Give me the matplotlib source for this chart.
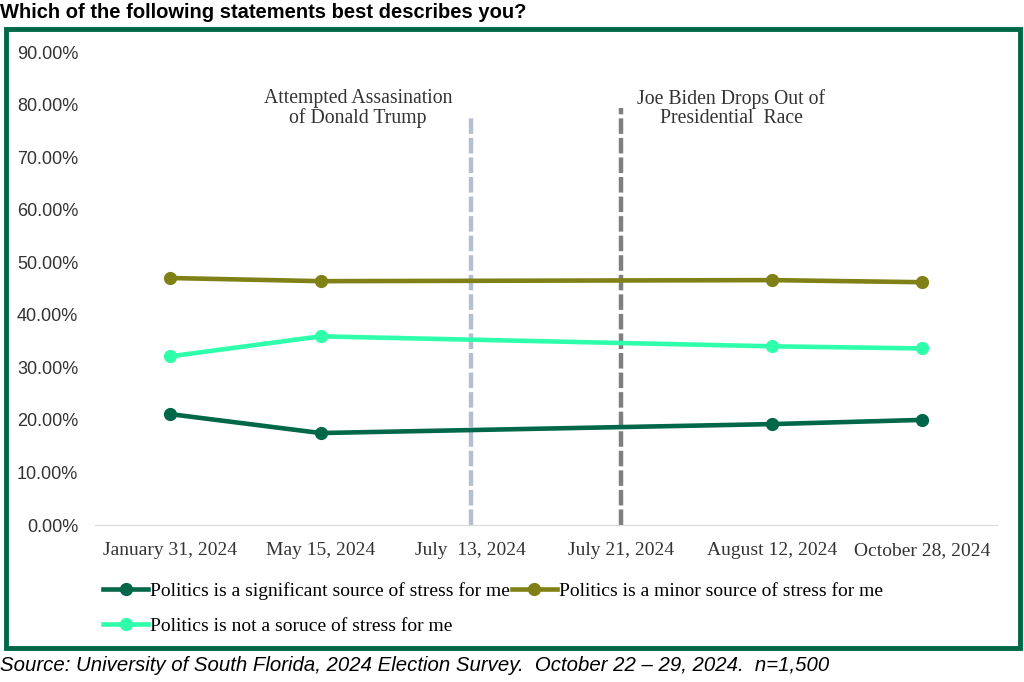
import matplotlib.pyplot as plt
from matplotlib.patches import Rectangle
from matplotlib.ticker import PercentFormatter

categories = ['January 31, 2024', 'May 15, 2024', 'July  13, 2024',
              'July 21, 2024', 'August 12, 2024', 'October 28, 2024']
survey_idx = [0, 1, 4, 5]
significant = [21.1, 17.5, 19.2, 20.0]
minor = [47.0, 46.4, 46.6, 46.2]
not_source = [32.1, 35.9, 34.0, 33.6]
event_idx = [2, 3]
event_labels = ['Attempted Assasination\nof Donald Trump',
                'Joe Biden Drops Out of\nPresidential  Race']
event_label_x = [1.25, 3.73]
event_top = [78.0, 79.3]

serif = 'Liberation Serif'
sans = 'Liberation Sans'

fig = plt.figure(figsize=(10.24, 6.82), dpi=100)
ax = fig.add_axes([0.0928, 0.2302, 0.881, 0.6935])

# event markers
ax.vlines(event_idx[0], 0, event_top[0], colors='#b4bfd2', linestyles=(0, (3.5, 0.9)), lw=3.2, zorder=1)
ax.vlines(event_idx[1], 0, event_top[1], colors='#7f7f7f', linestyles=(0, (3.5, 0.9)), lw=3.2, zorder=1)
for x, lab in zip(event_label_x, event_labels):
    ax.text(x, 79.3, lab, ha='center', va='center', fontsize=14.2, family=serif,
            color='#333333', linespacing=1.0)

l1, = ax.plot(survey_idx, significant, color='#00674a', lw=3.3, marker='o', ms=8.5,
              label='Politics is a significant source of stress for me', zorder=3)
l2, = ax.plot(survey_idx, minor, color='#7f8016', lw=3.3, marker='o', ms=8.5,
              label='Politics is a minor source of stress for me', zorder=3)
l3, = ax.plot(survey_idx, not_source, color='#2effaa', lw=3.3, marker='o', ms=8.5,
              label='Politics is not a soruce of stress for me', zorder=3)

ax.set_xlim(-0.5, 5.5)
ax.set_ylim(0, 90)
ax.set_yticks(range(0, 91, 10))
ax.yaxis.set_major_formatter(PercentFormatter(decimals=2))
ax.set_xticks(range(len(categories)))
ax.set_xticklabels(categories, family=serif, fontsize=14, color='#333333')
for lab in ax.get_yticklabels():
    lab.set_family(sans)
    lab.set_fontsize(13)
    lab.set_color('#333333')
ax.tick_params(length=0, pad=12)
ax.tick_params(axis='y', pad=12)
for s in ['top', 'right', 'left']:
    ax.spines[s].set_visible(False)
ax.spines['bottom'].set_color('#d9d9d9')

# column-wise fill: sig + not in col 1, minor in col 2
fig.legend([l1, l3, l2], [l1.get_label(), l3.get_label(), l2.get_label()],
           loc='upper left', bbox_to_anchor=(0.101, 0.146), ncol=2, frameon=False,
           prop={'family': serif, 'size': 14}, handlelength=2.3, handletextpad=0.1,
           columnspacing=0.1, labelspacing=0.88, borderaxespad=0, borderpad=0)

# frame around chart
fig.patches.append(Rectangle((0.0059, 0.050), 0.9902, 0.907, transform=fig.transFigure,
                             fill=False, edgecolor='#006747', lw=3.5))
fig.text(0.0, 0.982, 'Which of the following statements best describes you?', fontsize=14.5,
         fontweight='bold', family=sans, va='center', ha='left')
fig.text(0.0, 0.024, 'Source: University of South Florida, 2024 Election Survey.  October 22 \u2013 29, 2024.  n=1,500',
         fontsize=14.7, style='italic', family=sans, va='center', ha='left')

fig.savefig('out.png', dpi=100)
